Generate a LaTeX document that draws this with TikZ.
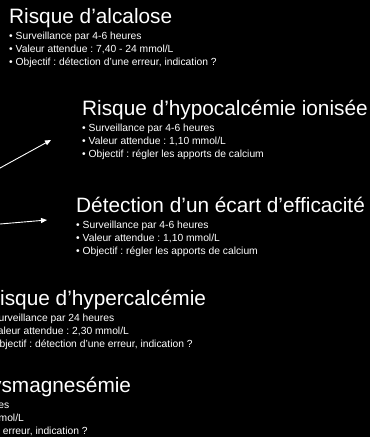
\documentclass[tikz,border=0pt]{standalone}
\usepackage{fontspec}
\setmainfont{Liberation Sans}
\usetikzlibrary{positioning,arrows.meta}
\frenchspacing

\begin{document}
\begin{tikzpicture}[x=1pt,y=-1pt,
        titre/.style={inner sep=0pt,anchor=base west,text=white,
            font=\fontsize{20.8}{25}\selectfont},
        puces/.style={inner sep=0pt,align=left,text=white,
            font=\fontsize{10.3}{13.3}\selectfont},
        fleche/.style={draw=white,line width=0.9pt,-{Triangle[length=6pt,width=5pt]}}]

        \fill[black] (0,0) rectangle (370,437);
        \useasboundingbox (0,0) rectangle (370,437);
        \clip (0,0) rectangle (370,437);

        % blocs de texte
        \node[titre] (alcalose) at (9,23) {Risque d’alcalose};
        \node[puces,below=8.6pt of alcalose.base west,anchor=north west] (alcalose-txt)
            {• Surveillance par 4-6 heures\\
             • Valeur attendue : 7,40 - 24 mmol/L\\
             • Objectif : détection d’une erreur, indication ?};

        \node[titre] (hypo) at (82,115) {Risque d’hypocalcémie ionisée};
        \node[puces,below=8.6pt of hypo.base west,anchor=north west] (hypo-txt)
            {• Surveillance par 4-6 heures\\
             • Valeur attendue : 1,10 mmol/L\\
             • Objectif : régler les apports de calcium};

        \node[titre] (ecart) at (76,212) {Détection d’un écart d’efficacité};
        \node[puces,below=8.6pt of ecart.base west,anchor=north west] (ecart-txt)
            {• Surveillance par 4-6 heures\\
             • Valeur attendue : 1,10 mmol/L\\
             • Objectif : régler les apports de calcium};

        \node[titre] (hyper) at (-15,305) {Risque d’hypercalcémie};
        \node[puces,below=8.6pt of hyper.base west,anchor=north west] (hyper-txt)
            {• Surveillance par 24 heures\\
             • Valeur attendue : 2,30 mmol/L\\
             • Objectif : détection d’une erreur, indication ?};

        \node[titre] (dysmg) at (-120,392) {Risque de dysmagnesémie};
        \node[puces,below=8.6pt of dysmg.base west,anchor=north west] (dysmg-txt)
            {• Surveillance par 24 heures\\
             • Valeur attendue : 0,80 mmol/L\\
             • Objectif : détection d’une erreur, indication ?};

        % fleches
        \coordinate (depart1) at (-20,179);
        \coordinate (pointe1) at (51,140);
        \coordinate (depart2) at (-20,225.7);
        \coordinate (pointe2) at (47,220);
        \draw[fleche] (depart1) -- (pointe1);
        \draw[fleche] (depart2) -- (pointe2);
    \end{tikzpicture}
\end{document}
